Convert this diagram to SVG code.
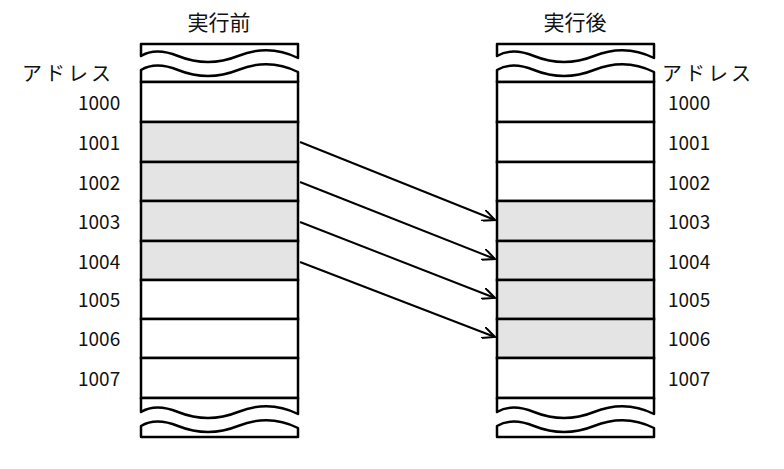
<svg xmlns="http://www.w3.org/2000/svg" width="784" height="469" viewBox="0 0 784 469">
<defs>
<style>
.b{fill:#fff;stroke:#000;stroke-width:2.5}
.s{fill:#e4e4e4;stroke:#000;stroke-width:2.5}
.w{fill:#fff;stroke:#000;stroke-width:2.5;stroke-linejoin:round}
text{font-family:"Noto Sans CJK JP","Liberation Sans",sans-serif;font-size:19px;fill:#111}
.t{text-anchor:middle;font-size:21px}
.d{letter-spacing:3px;font-size:20px}
.a{fill:none;stroke:#000;stroke-width:2}
</style>
<marker id="ar" markerWidth="14" markerHeight="12" refX="13" refY="6" orient="auto" markerUnits="userSpaceOnUse"><path d="M0,0 L13,6 L0,12" fill="none" stroke="#000" stroke-width="2"/></marker>
<g id="wt"><path class="w" d="M0,0 H157 V14 C137,4 117,4 97,12 C77,20 57,20 37,12 C22,6 10,6 0,12 Z"/><path class="w" d="M0,38 V26 C10,20 22,20 37,26 C57,34 77,34 97,26 C117,18 137,18 157,28 V38 Z"/></g>
<g id="wb"><path class="w" d="M0,0 H157 V16 C137,6 117,6 97,14 C77,22 57,22 37,14 C22,8 10,8 0,14 Z"/><path class="w" d="M0,39 V28 C10,22 22,22 37,28 C57,36 77,36 97,28 C117,20 137,20 157,30 V39 Z"/></g>
</defs>
<g id="left">
<text class="t" x="219" y="30">実行前</text>
<use href="#wt" x="141" y="44"/>
<rect class="b" x="141" y="82" width="157" height="40"/>
<rect class="s" x="141" y="122" width="157" height="40"/>
<rect class="s" x="141" y="162" width="157" height="39"/>
<rect class="s" x="141" y="201" width="157" height="40"/>
<rect class="s" x="141" y="241" width="157" height="39"/>
<rect class="b" x="141" y="280" width="157" height="39"/>
<rect class="b" x="141" y="319" width="157" height="39"/>
<rect class="b" x="141" y="358" width="157" height="40"/>
<use href="#wb" x="141" y="398"/>
<text class="d" x="22" y="81">アドレス</text>
<text x="78" y="110">1000</text><text x="78" y="150">1001</text><text x="78" y="190">1002</text><text x="78" y="229">1003</text><text x="78" y="269">1004</text><text x="78" y="307">1005</text><text x="78" y="346">1006</text><text x="78" y="386">1007</text>
</g>
<g id="right">
<text class="t" x="575" y="30">実行後</text>
<use href="#wt" x="497" y="44"/>
<rect class="b" x="497" y="82" width="157" height="40"/>
<rect class="b" x="497" y="122" width="157" height="40"/>
<rect class="b" x="497" y="162" width="157" height="39"/>
<rect class="s" x="497" y="201" width="157" height="40"/>
<rect class="s" x="497" y="241" width="157" height="39"/>
<rect class="s" x="497" y="280" width="157" height="39"/>
<rect class="s" x="497" y="319" width="157" height="39"/>
<rect class="b" x="497" y="358" width="157" height="40"/>
<use href="#wb" x="497" y="398"/>
<text class="d" x="662" y="81">アドレス</text>
<text x="668" y="110">1000</text><text x="668" y="150">1001</text><text x="668" y="190">1002</text><text x="668" y="229">1003</text><text x="668" y="269">1004</text><text x="668" y="307">1005</text><text x="668" y="346">1006</text><text x="668" y="386">1007</text>
</g>
<g id="connectors">
<line class="a" x1="300" y1="142" x2="495" y2="220" marker-end="url(#ar)"/>
<line class="a" x1="300" y1="182" x2="495" y2="259" marker-end="url(#ar)"/>
<line class="a" x1="300" y1="222" x2="495" y2="298" marker-end="url(#ar)"/>
<line class="a" x1="300" y1="262" x2="495" y2="337" marker-end="url(#ar)"/>
</g>
</svg>
